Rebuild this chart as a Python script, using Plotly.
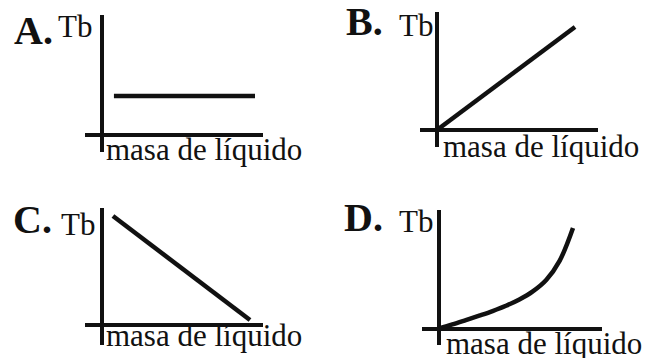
import plotly.graph_objects as go

W, H = 649, 358

# ---- data ----
panel_letters = ["A.", "B.", "C.", "D."]
y_label = "Tb"
x_label = "masa de líquido"

masa_A = [0.78, 10]
tb_A = [3.9, 3.9]

masa_B = [0, 10]
tb_B = [0, 10]

masa_C = [0.74, 10]
tb_C = [10.9, 0.5]

masa_D = [0, 1, 2, 3, 4, 5, 6, 7, 8, 9, 10]
tb_D = [0.05, 0.45, 0.88, 1.32, 1.78, 2.3, 2.92, 3.72, 4.85, 6.75, 10]

series = [(masa_A, tb_A), (masa_B, tb_B), (masa_C, tb_C), (masa_D, tb_D)]

# ---- layout geometry (pixels) ----
# plot box (left, right, top, bottom), origin (x, y), px per unit (x, y)
geom = [
    ((85, 263, 15, 152), (102, 135), (15.3, 10.0)),
    ((420, 598, 12, 147), (437, 130), (13.8, 10.3)),
    ((85, 263, 208, 345), (102, 325), (14.8, 10.0)),
    ((422, 602, 210, 345), (439, 329), (13.4, 10.1)),
]
# label positions: (letter x, letter baseline, Tb x, Tb baseline, xlabel x, xlabel baseline)
label_pos = [
    (13, 44, 57, 37, 105, 160),
    (345, 35, 398, 36, 442, 157),
    (12, 233, 60, 235, 105, 346),
    (343, 231, 398, 232, 445, 354),
]

fig = go.Figure()
layout = dict(
    width=W, height=H,
    margin=dict(l=0, r=0, t=0, b=0),
    paper_bgcolor="white", plot_bgcolor="rgba(0,0,0,0)",
    showlegend=False,
    hovermode=False,
)

annotations = []
SERIF = "Liberation Serif, Times New Roman, serif"


def add_text(text, x_px, baseline_px, size, bold=False):
    # middle of text bbox ~ baseline - 0.3375*size for Liberation Serif
    ymid = baseline_px - 0.3375 * size
    annotations.append(dict(
        text=f"<b>{text}</b>" if bold else text,
        x=x_px / W, y=1 - ymid / H, xref="paper", yref="paper",
        xanchor="left", yanchor="middle", showarrow=False,
        font=dict(family=SERIF, size=size, color="#111111"),
        borderpad=0,
    ))


for i, ((mx, ty), (box, origin, k), lp, letter) in enumerate(
        zip(series, geom, label_pos, panel_letters)):
    n = "" if i == 0 else str(i + 1)
    x0, x1, y0, y1 = box
    ox, oy = origin
    kx, ky = k
    xr = [(x0 - ox) / kx, (x1 - ox) / kx]
    yr = [(oy - y1) / ky, (oy - y0) / ky]
    ax_common = dict(showgrid=False, showticklabels=False, ticks="", showline=False,
                     zeroline=True, zerolinecolor="#111111", zerolinewidth=4,
                     fixedrange=True)
    layout["xaxis" + n] = dict(domain=[x0 / W, x1 / W], range=xr,
                               anchor="y" + n, **ax_common)
    layout["yaxis" + n] = dict(domain=[1 - y1 / H, 1 - y0 / H], range=yr,
                               anchor="x" + n, **ax_common)
    fig.add_trace(go.Scatter(
        x=mx, y=ty, mode="lines",
        line=dict(color="#111111", width=4.5,
                  shape="spline" if len(mx) > 2 else "linear", smoothing=1.0),
        xaxis="x" + n, yaxis="y" + n,
    ))
    lx, lb, tx, tb, mxp, mb = lp
    add_text(letter, lx, lb, 40, bold=True)
    add_text(y_label, tx, tb, 31)
    add_text(x_label, mxp, mb, 31)

layout["annotations"] = annotations
fig.update_layout(**layout)
fig.write_html(
    "out.html",
    config={"displayModeBar": False, "staticPlot": True},
    post_script="document.body.style.margin='0';document.body.style.overflow='hidden';",
)
